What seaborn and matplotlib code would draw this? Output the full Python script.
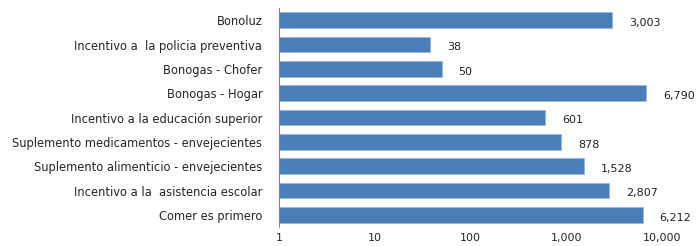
import numpy as np
import pandas as pd
import matplotlib
matplotlib.use("Agg")
import matplotlib.pyplot as plt
import seaborn as sns

# programas y beneficiarios
programas = ["Bonoluz",
             "Incentivo a  la policia preventiva",
             "Bonogas - Chofer",
             "Bonogas - Hogar",
             "Incentivo a la educación superior",
             "Suplemento medicamentos - envejecientes",
             "Suplemento alimenticio - envejecientes",
             "Incentivo a la  asistencia escolar",
             "Comer es primero"]
beneficiarios = [3003, 38, 50, 6790, 601, 878, 1528, 2807, 6212]
ticks = [1, 10, 100, 1000, 10000]

df = pd.DataFrame({"programa": programas, "valor": beneficiarios})

sns.set_style("white")
plt.rcParams['font.family'] = ['DejaVu Sans']

fig = plt.figure(figsize=(6.97, 2.46), dpi=100)
ax = fig.add_axes([0.4003, 0.077, 0.550, 0.890])

sns.barplot(data=df, x="valor", y="programa", orient="h", color="#4a7ebb",
            saturation=1, width=0.64, edgecolor="#9db6d8", linewidth=0.6, ax=ax)
ax.set_xscale("log")
ax.set_xlim(1, 10000)
ax.set_ylim(8.5, -0.5)

for i, v in enumerate(df["valor"]):
    ax.annotate(f"{v:,}", (v, i), xytext=(12, -2), textcoords="offset points",
                va="center", ha="left", fontsize=8, color="#222222")

ax.set_xticks(ticks)
ax.set_xticklabels([f"{t:,}" for t in ticks], fontsize=8)
ax.minorticks_off()
ax.tick_params(axis="x", length=0, pad=4)
ax.tick_params(axis="y", length=0, pad=12, labelsize=8.3)
ax.set_xlabel("")
ax.set_ylabel("")
for s in ["top", "right", "bottom"]:
    ax.spines[s].set_visible(False)
ax.spines["left"].set_color("#868686")
ax.spines["left"].set_linewidth(0.8)

fig.savefig("out.png", dpi=100)
